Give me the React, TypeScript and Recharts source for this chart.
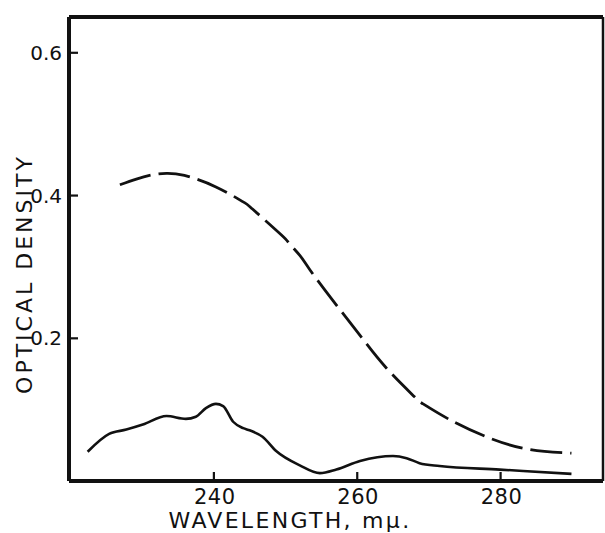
import React from "react";
import { LineChart, Line, XAxis, YAxis, ReferenceLine } from "recharts";

// Solid curve (wavelength in mμ, optical density)
const solidWavelength = [222.4, 225.4, 227.8, 230.1, 233.4, 236.1, 237.5, 238.9, 240.3, 241.3, 242.7, 244.1, 245.0, 246.8, 248.7, 252.0, 254.8, 257.1, 260.4, 265.0, 266.9, 268.7, 271.5, 279.9, 289.9];
const solidDensity = [0.041, 0.066, 0.072, 0.079, 0.091, 0.087, 0.090, 0.102, 0.108, 0.105, 0.083, 0.074, 0.071, 0.062, 0.042, 0.022, 0.011, 0.016, 0.028, 0.035, 0.032, 0.025, 0.021, 0.016, 0.010];

// Dashed curve
const dashedWavelength = [226.9, 229.2, 231.5, 233.4, 235.9, 240.3, 244.1, 245.4, 249.4, 250.5, 252.0, 253.4, 256.6, 260.4, 264.1, 268.0, 269.2, 272.9, 278.5, 284.1, 289.9];
const dashedDensity = [0.415, 0.423, 0.429, 0.431, 0.428, 0.412, 0.391, 0.381, 0.345, 0.333, 0.316, 0.296, 0.253, 0.204, 0.158, 0.118, 0.108, 0.086, 0.060, 0.044, 0.039];

const xDomain: [number, number] = [219.8, 294.3];
const yDomain: [number, number] = [0, 0.65];
const xTicks = [240, 260, 280];
const yTicks = [0.2, 0.4, 0.6];
const yTickLabels = ["0.2", "0.4", "0.6"];

const solidData = solidWavelength.map((wl, i) => ({ wl, od: solidDensity[i] }));
const dashedData = dashedWavelength.map((wl, i) => ({ wl, od: dashedDensity[i] }));

const FONT = "'DejaVu Sans', sans-serif";
const INK = "#111";

const YTick = (props: any) => {
  const x = Number(props.x);
  const y = Number(props.y);
  const v = props.payload?.value;
  const label = yTickLabels[yTicks.indexOf(v)] ?? String(v);
  return (
    <g>
      <rect x={x + 7} y={y - 1} width={9} height={2.2} fill={INK} />
      <text x={x} y={y} dy="0.36em" textAnchor="end" fontFamily={FONT} fontSize={20} fill={INK}>
        {label}
      </text>
    </g>
  );
};

const XTick = (props: any) => {
  const x = Number(props.x);
  const y = Number(props.y);
  const v = props.payload?.value;
  return (
    <g>
      <rect x={x - 1} y={y - 17} width={2.2} height={9} fill={INK} />
      <text x={x + 1} y={y} dy="0.71em" textAnchor="middle" fontFamily={FONT} fontSize={21} fill={INK} letterSpacing={0.5}>
        {v}
      </text>
    </g>
  );
};

const YTitle = (props: any) => {
  const vb = props.viewBox || {};
  const cx = (vb.x ?? 0) + 24;
  const cy = (vb.y ?? 0) + (vb.height ?? 0) / 2 + 25;
  return (
    <text
      x={cx}
      y={cy}
      transform={`rotate(-90 ${cx} ${cy})`}
      textAnchor="middle"
      dominantBaseline="central"
      fontFamily={FONT}
      fontSize={22}
      fill={INK}
      letterSpacing={3}
    >
      OPTICAL DENSITY
    </text>
  );
};

const XTitle = (props: any) => {
  const vb = props.viewBox || {};
  const cx = (vb.x ?? 0) + (vb.width ?? 0) / 2 - 46;
  const cy = (vb.y ?? 0) + 39;
  return (
    <text
      x={cx}
      y={cy}
      textAnchor="middle"
      dominantBaseline="central"
      fontFamily={FONT}
      fontSize={22}
      fill={INK}
      letterSpacing={2.3}
    >
      WAVELENGTH, mμ.
    </text>
  );
};

export default function App() {
  return (
    <div style={{ position: "absolute", left: 0, top: 0, width: 605, height: 533, background: "#fff" }}>
      <LineChart width={605} height={533} margin={{ top: 17, right: 2, bottom: 0, left: 0 }}>
        <XAxis
          type="number"
          dataKey="wl"
          domain={xDomain}
          ticks={xTicks}
          allowDataOverflow
          height={52}
          axisLine={{ stroke: INK, strokeWidth: 4 }}
          tickLine={false}
          tickSize={0}
          tickMargin={8}
          tick={<XTick />}
          label={<XTitle />}
        />
        <YAxis
          type="number"
          domain={yDomain}
          ticks={yTicks}
          allowDataOverflow
          width={69}
          axisLine={{ stroke: INK, strokeWidth: 4 }}
          tickLine={false}
          tickSize={0}
          tickMargin={7}
          tick={<YTick />}
          label={<YTitle />}
        />
        <ReferenceLine y={yDomain[1]} stroke={INK} strokeWidth={4} />
        <ReferenceLine x={xDomain[1]} stroke={INK} strokeWidth={2.5} />
        <Line
          data={solidData}
          dataKey="od"
          type="monotone"
          stroke={INK}
          strokeWidth={2.6}
          dot={false}
          isAnimationActive={false}
        />
        <Line
          data={dashedData}
          dataKey="od"
          type="natural"
          stroke={INK}
          strokeWidth={2.8}
          strokeDasharray="32 8"
          dot={false}
          isAnimationActive={false}
        />
      </LineChart>
    </div>
  );
}
